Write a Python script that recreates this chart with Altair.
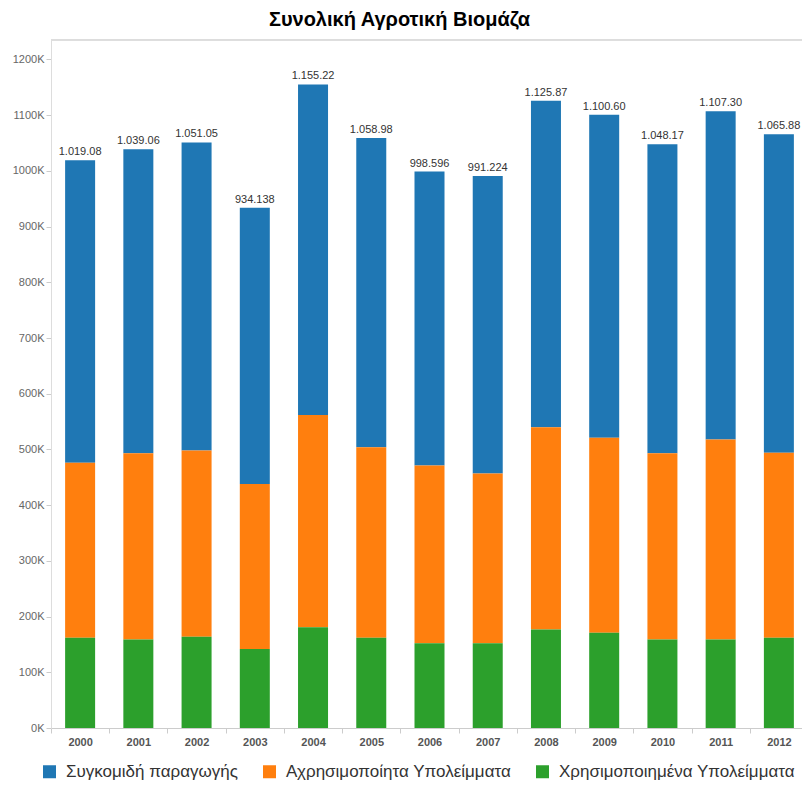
import altair as alt
import pandas as pd

years = [str(y) for y in range(2000, 2013)]
series = ["Συγκομιδή παραγωγής", "Αχρησιμοποίητα Υπολείμματα", "Χρησιμοποιημένα Υπολείμματα"]
colors = ["#1f77b4", "#ff7f0e", "#2ca02c"]

# values in thousands (K)
harvest = [543, 546, 553, 496, 593, 555, 528, 534, 586, 580, 555, 589, 572]
unused = [314, 334, 334, 296, 381, 342, 319, 305, 363, 350, 334, 359, 332]
used = [162, 159, 164, 142, 181, 162, 152, 152, 177, 171, 159, 159, 162]
totals = [1019.08, 1039.06, 1051.05, 934.138, 1155.22, 1058.98, 998.596,
          991.224, 1125.87, 1100.60, 1048.17, 1107.30, 1065.88]
total_labels = ["1.019.08", "1.039.06", "1.051.05", "934.138", "1.155.22", "1.058.98",
                "998.596", "991.224", "1.125.87", "1.100.60", "1.048.17", "1.107.30", "1.065.88"]
y_ticks = list(range(0, 1201, 100))

rows = []
for i, yr in enumerate(years):
    for s, vals, o in [(series[0], harvest, 2), (series[1], unused, 1), (series[2], used, 0)]:
        rows.append({"year": yr, "series": s, "value": vals[i], "ord": o})
df = pd.DataFrame(rows)
tdf = pd.DataFrame({"year": years, "total": totals, "label": total_labels})

FONT = "Liberation Sans"
W, H = 751, 688

xscale = alt.Scale(domain=years, range=[0, 757], paddingInner=0, paddingOuter=0)
yscale = alt.Scale(domain=[0, 1235], nice=False)

bars = alt.Chart(df).mark_bar(size=30).encode(
    x=alt.X("year:N", scale=xscale, title=None,
            axis=alt.Axis(labelAngle=0, labelFontWeight="bold", labelColor="#555",
                          labelFontSize=11, labelFont=FONT, tickBand="extent",
                          tickColor="#ccc", tickSize=5, domainColor="#ccc", labelPadding=3)),
    y=alt.Y("value:Q", stack="zero", scale=yscale, title=None,
            axis=alt.Axis(values=y_ticks, labelExpr="datum.value + 'K'", grid=False,
                          labelColor="#666", labelFontSize=11, labelFont=FONT,
                          tickColor="#ccc", tickSize=5, domainColor="#ddd", labelPadding=2)),
    color=alt.Color("series:N", scale=alt.Scale(domain=series, range=colors), title=None,
                    legend=alt.Legend(orient="none", legendX=-10, legendY=723,
                                      direction="horizontal", symbolType="square",
                                      symbolSize=169, symbolStrokeWidth=0,
                                      labelFontSize=17, labelColor="#333", labelFont=FONT,
                                      labelLimit=400, columnPadding=22, labelOffset=8)),
    order=alt.Order("ord:Q", sort="ascending"),
)

labels = alt.Chart(tdf).mark_text(baseline="bottom", dy=-3, fontSize=11, color="#333",
                                   font=FONT).encode(
    x=alt.X("year:N", scale=xscale),
    y=alt.Y("total:Q", scale=yscale),
    text="label:N",
)

topline = alt.Chart(tdf).mark_rule(color="#ddd", strokeWidth=1).encode(
    x=alt.value(0), x2=alt.value(770), y=alt.value(0)
)

chart = alt.layer(topline, bars, labels).properties(
    width=W, height=H,
    title=alt.TitleParams("Συνολική Αγροτική Βιομάζα", fontSize=20, fontWeight="bold",
                          font=FONT, color="#000", anchor="middle", dx=-27, offset=10),
    autosize=alt.AutoSizeParams(type="none"),
    padding={"left": 43, "top": 32, "right": 0, "bottom": 55},
).configure_view(stroke=None)

chart.save("out.html", embed_options={"renderer": "svg", "actions": False})
